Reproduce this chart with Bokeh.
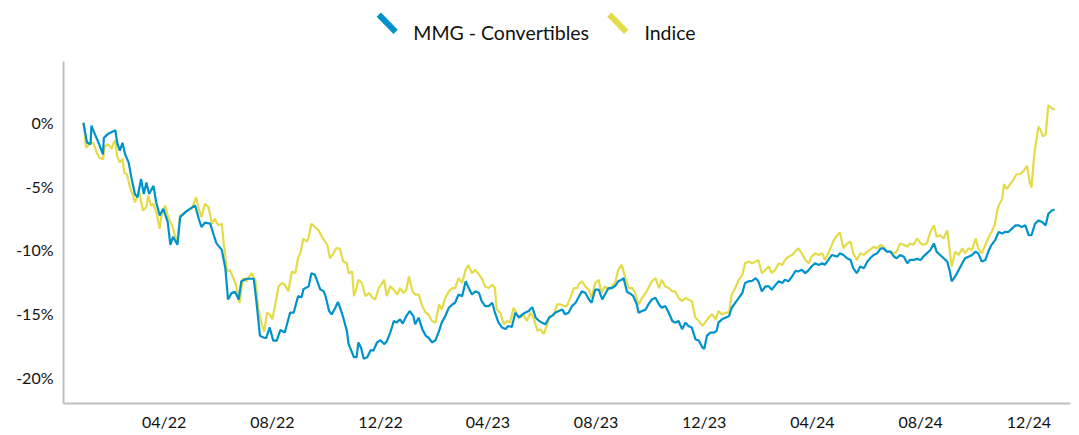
from datetime import datetime, timedelta
from bokeh.plotting import figure
from bokeh.models import (Range1d, FixedTicker, DatetimeTickFormatter, PrintfTickFormatter,
                          Label, Arrow)
from bokeh.embed import file_html
from bokeh.resources import INLINE

# ---------------- data (days since 2021-12-31, cumulative performance in %) ----------------
start_date = datetime(2021, 12, 31)

mmg_days = [0, 4, 8, 9, 13, 17, 22, 23, 28, 36, 38, 41, 44, 47, 51, 54, 58, 61, 65, 68, 71, 74, 79, 82,
            86, 90, 95, 98, 101, 106, 109, 115, 120, 126, 130, 133, 137, 143, 147, 150, 156, 160, 163,
            167, 171, 175, 178, 184, 192, 195, 199, 203, 206, 210, 214, 218, 222, 227, 233, 237, 242,
            246, 248, 254, 257, 261, 267, 271, 273, 277, 280, 284, 287, 290, 293, 297, 299, 302, 305,
            308, 310, 313, 316, 320, 324, 327, 331, 335, 339, 342, 346, 350, 353, 357, 360, 364, 368,
            372, 374, 378, 382, 386, 389, 393, 397, 401, 404, 408, 412, 416, 419, 423, 427, 431, 434,
            438, 442, 446, 449, 453, 457, 461, 464, 468, 472, 476, 479, 483, 487, 491, 495, 498, 502,
            506, 510, 513, 517, 521, 525, 528, 532, 536, 540, 543, 547, 551, 555, 558, 562, 566, 570,
            573, 577, 581, 585, 588, 592, 596, 600, 603, 607, 609, 613, 617, 620, 624, 626, 630, 634,
            637, 641, 645, 649, 652, 656, 660, 664, 667, 671, 675, 679, 682, 686, 690, 694, 698, 700,
            703, 707, 711, 714, 716, 720, 724, 728, 731, 735, 739, 743, 746, 750, 754, 758, 761, 765,
            769, 773, 776, 780, 784, 788, 791, 795, 799, 803, 806, 810, 814, 818, 821, 825, 829, 833,
            836, 840, 844, 850, 853, 857, 861, 865, 868, 872, 876, 880, 884, 887, 891, 895, 899, 902,
            906, 910, 914, 917, 921, 925, 929, 932, 936, 940, 944, 947, 951, 955, 959, 962, 966, 970,
            974, 977, 979, 983, 987, 991, 994, 998, 1002, 1006, 1009, 1013, 1017, 1021, 1024, 1028,
            1032, 1036, 1039, 1043, 1047, 1051, 1054, 1058, 1062, 1066, 1069, 1073, 1077, 1081, 1085,
            1088, 1092, 1095]
mmg_vals = [0.0, -1.56, -1.7, -0.23, -0.93, -1.56, -2.49, -1.19, -0.86, -0.6, -1.56, -2.2, -1.58, -2.49,
            -3.14, -4.3, -5.6, -5.86, -4.43, -5.6, -4.7, -5.6, -4.96, -6.25, -7.29, -6.77, -7.8, -9.6,
            -8.97, -9.6, -7.42, -7.03, -6.77, -6.51, -7.55, -8.2, -7.86, -7.94, -8.85, -9.49, -10.0,
            -11.44, -13.9, -13.4, -13.3, -13.9, -12.47, -12.27, -12.27, -14.03, -16.75, -16.89, -16.94,
            -16.1, -17.14, -17.14, -16.3, -16.5, -14.94, -14.94, -13.64, -13.72, -13.1, -12.87, -11.83,
            -11.96, -13.1, -13.26, -13.64, -14.81, -15.07, -14.55, -14.09, -14.68, -15.33, -16.37,
            -17.41, -17.92, -18.44, -18.44, -17.28, -17.67, -18.57, -18.44, -17.87, -17.92, -17.28,
            -17.1, -17.41, -17.2, -16.5, -15.59, -15.72, -15.46, -15.8, -15.2, -14.81, -15.2, -15.85,
            -15.33, -16.23, -16.76, -16.89, -17.28, -17.1, -16.37, -15.72, -15.2, -14.55, -14.29,
            -14.16, -13.51, -13.64, -12.47, -12.94, -13.51, -13.26, -13.39, -14.03, -14.42, -14.42,
            -14.16, -14.94, -15.72, -16.11, -16.23, -15.98, -16.06, -14.94, -15.33, -15.07, -14.94,
            -14.81, -14.5, -15.33, -15.54, -15.72, -15.85, -15.33, -15.2, -14.94, -14.81, -14.68,
            -15.07, -14.94, -14.42, -14.16, -13.77, -13.26, -13.39, -13.9, -14.16, -13.13, -13.13,
            -13.9, -13.51, -13.0, -13.0, -12.79, -12.47, -12.35, -12.22, -13.31, -13.46, -13.64,
            -14.29, -14.94, -14.81, -14.68, -14.29, -13.9, -13.77, -14.29, -14.55, -14.42, -14.94,
            -15.59, -15.72, -15.59, -16.23, -15.72, -15.98, -16.11, -17.02, -17.14, -17.67, -17.79,
            -16.76, -16.5, -16.5, -16.37, -15.72, -15.46, -15.33, -15.2, -14.55, -14.16, -13.77,
            -13.39, -12.6, -12.47, -12.43, -12.22, -12.47, -13.26, -12.87, -12.87, -13.13, -12.79,
            -12.47, -12.6, -12.35, -12.47, -12.09, -11.65, -11.7, -11.57, -11.83, -11.57, -11.31,
            -11.05, -11.18, -11.05, -11.18, -10.79, -10.4, -10.53, -10.27, -10.4, -10.66, -10.79,
            -11.44, -11.83, -11.31, -11.44, -10.92, -10.66, -10.4, -10.27, -9.88, -9.88, -10.14,
            -10.14, -10.53, -10.66, -10.4, -10.53, -11.05, -10.79, -10.79, -10.71, -10.79, -10.53,
            -10.27, -10.01, -9.49, -10.14, -10.4, -10.66, -10.92, -11.7, -12.47, -12.09, -11.57,
            -11.05, -10.66, -10.53, -10.4, -10.14, -10.27, -10.92, -10.79, -10.01, -9.6, -9.23, -8.59,
            -8.72, -8.59, -8.59, -8.33, -8.07, -8.07, -8.2, -8.07, -8.85, -8.85, -7.94, -7.68, -7.8,
            -8.07, -7.16, -6.9, -6.82]

indice_days = [0, 3, 8, 11, 15, 18, 22, 24, 28, 32, 34, 36, 38, 41, 44, 46, 49, 53, 56, 58, 63, 67, 71,
               73, 76, 79, 83, 86, 88, 92, 96, 100, 103, 106, 109, 113, 117, 122, 127, 130, 133, 137,
               141, 145, 148, 152, 156, 158, 162, 165, 169, 172, 176, 180, 184, 187, 190, 194, 197,
               201, 204, 207, 210, 213, 217, 220, 224, 227, 231, 235, 239, 242, 245, 248, 252, 254,
               257, 261, 265, 270, 275, 278, 282, 285, 289, 293, 297, 299, 303, 305, 308, 310, 314,
               318, 322, 326, 329, 333, 337, 339, 342, 346, 350, 354, 357, 361, 364, 367, 371, 374,
               378, 382, 386, 389, 393, 397, 401, 404, 408, 412, 416, 419, 423, 427, 431, 434, 438,
               442, 446, 449, 453, 457, 461, 464, 466, 470, 474, 478, 481, 485, 489, 493, 496, 500,
               504, 508, 512, 515, 519, 523, 526, 530, 534, 538, 542, 545, 549, 553, 557, 558, 562,
               566, 570, 573, 577, 581, 584, 588, 592, 596, 600, 603, 607, 611, 615, 619, 622, 626,
               630, 634, 637, 641, 645, 649, 652, 656, 660, 664, 667, 671, 675, 679, 682, 686, 690,
               694, 698, 701, 705, 709, 713, 716, 720, 724, 728, 731, 735, 739, 743, 746, 750, 754,
               758, 761, 765, 769, 773, 776, 780, 784, 788, 791, 795, 799, 803, 806, 810, 814, 818,
               821, 825, 829, 833, 836, 840, 844, 846, 850, 853, 857, 861, 865, 868, 872, 876, 880,
               884, 887, 891, 895, 899, 902, 906, 910, 914, 917, 921, 925, 929, 932, 936, 940, 944,
               947, 951, 955, 959, 962, 966, 970, 974, 977, 979, 983, 987, 991, 994, 998, 1002, 1006,
               1009, 1013, 1017, 1021, 1024, 1028, 1030, 1032, 1036, 1038, 1041, 1045, 1049, 1052,
               1056, 1060, 1064, 1067, 1069, 1072, 1074, 1077, 1079, 1082, 1085, 1088, 1092, 1095]
indice_vals = [0.0, -1.97, -1.58, -1.58, -2.36, -2.75, -2.88, -1.84, -1.71, -2.05, -1.58, -1.38, -2.62,
               -3.14, -2.83, -3.92, -4.05, -5.21, -5.73, -6.25, -5.47, -6.9, -6.64, -5.73, -6.51,
               -6.38, -7.29, -8.33, -7.29, -6.51, -7.55, -8.07, -8.85, -9.36, -7.29, -7.16, -6.9,
               -6.77, -5.86, -6.77, -7.42, -6.38, -6.64, -7.94, -7.55, -8.07, -7.94, -9.36, -11.7,
               -11.57, -12.22, -12.74, -14.16, -12.22, -12.47, -12.09, -11.83, -12.47, -14.55,
               -15.85, -16.42, -14.94, -15.07, -15.46, -14.03, -12.87, -12.6, -12.74, -13.26, -11.7,
               -11.83, -10.66, -10.14, -9.1, -9.36, -8.97, -7.94, -8.2, -8.46, -9.1, -9.6, -10.66,
               -10.27, -9.88, -9.88, -10.92, -11.05, -11.83, -11.7, -13.64, -13.0, -12.35, -12.6,
               -13.64, -13.39, -13.77, -13.9, -13.0, -12.6, -12.35, -13.64, -12.87, -13.13, -13.51,
               -13.0, -13.39, -13.13, -12.09, -13.26, -13.51, -13.51, -14.42, -14.94, -15.07, -15.59,
               -15.72, -14.29, -14.68, -13.77, -13.26, -13.0, -13.0, -12.22, -12.6, -11.57, -11.18,
               -11.83, -11.57, -11.96, -12.22, -12.87, -13.0, -12.74, -13.0, -14.68, -14.94, -15.85,
               -15.59, -15.72, -14.55, -15.07, -15.33, -15.07, -15.59, -14.94, -15.46, -16.37,
               -16.23, -16.63, -15.85, -15.2, -15.2, -14.29, -14.29, -14.42, -14.42, -13.77, -13.0,
               -13.0, -12.74, -12.47, -12.87, -13.13, -13.77, -12.6, -12.35, -13.39, -12.87, -13.13,
               -12.87, -12.47, -11.57, -11.18, -12.22, -13.0, -13.0, -13.39, -14.29, -13.77, -13.39,
               -13.0, -12.47, -12.22, -13.0, -12.35, -12.87, -13.0, -13.26, -13.26, -13.77, -14.03,
               -13.77, -13.9, -14.03, -15.33, -15.59, -15.98, -15.72, -15.33, -15.07, -15.46, -14.81,
               -15.07, -14.94, -14.94, -13.51, -13.0, -12.35, -11.96, -11.05, -10.92, -11.05, -10.92,
               -10.79, -11.83, -11.57, -11.31, -11.83, -11.57, -11.05, -11.18, -10.79, -10.53, -10.4,
               -10.09, -9.88, -10.27, -10.79, -11.05, -10.53, -10.27, -10.4, -10.27, -10.79, -10.27,
               -9.6, -9.23, -8.85, -8.64, -9.88, -9.49, -9.36, -10.27, -10.79, -10.27, -10.4, -10.14,
               -10.01, -9.75, -9.88, -9.6, -9.75, -10.14, -10.14, -10.27, -10.14, -9.49, -9.6, -9.75,
               -9.49, -9.6, -9.1, -9.49, -9.6, -9.49, -8.59, -8.07, -8.97, -8.85, -9.1, -8.46, -10.14,
               -11.31, -10.14, -10.4, -9.88, -10.27, -9.88, -10.01, -9.1, -9.88, -10.27, -9.6, -8.97,
               -8.59, -7.94, -7.03, -6.51, -5.99, -4.82, -5.21, -4.82, -4.43, -4.05, -4.05, -3.79,
               -3.4, -4.69, -5.08, -2.62, -1.58, -0.29, -0.54, -1.07, -0.93, 1.4, 1.14, 1.01]

series_names = ["MMG - Convertibles", "Indice"]
tick_months = [(2022, 4), (2022, 8), (2022, 12), (2023, 4), (2023, 8), (2023, 12),
               (2024, 4), (2024, 8), (2024, 12)]
y_ticks = [0, -5, -10, -15, -20]
y_axis_bounds = (-22.08, 4.85)

# ---------------- styling ----------------
BLUE = "#0092CB"
YELLOW = "#E4DB48"
AXIS = "#BFBFBF"
TEXT = "#111111"
FONT = "Lato"
EPOCH = datetime(1970, 1, 1)


def ms(dt):
    return (dt - EPOCH).total_seconds() * 1000.0


def day_ms(d):
    return ms(start_date + timedelta(days=d))


mmg_dates = [start_date + timedelta(days=d) for d in mmg_days]
ind_dates = [start_date + timedelta(days=d) for d in indice_days]

# the frame reaches up to the legend band; the y axis line is bounded to the plot range
p = figure(width=1075, height=433, x_axis_type="datetime",
           output_backend="svg", toolbar_location=None,
           x_range=Range1d(day_ms(-22.5), day_ms(1113)),
           y_range=Range1d(-22.08, 9.22),
           min_border_left=63, min_border_right=5, min_border_top=5, min_border_bottom=27)
p.outline_line_color = None
p.background_fill_color = "white"
p.border_fill_color = "white"
p.xgrid.visible = False
p.ygrid.visible = False

p.line(ind_dates, indice_vals, line_color=YELLOW, line_width=2.2)
p.line(mmg_dates, mmg_vals, line_color=BLUE, line_width=2.2)

xa = p.xaxis[0]
xa.ticker = FixedTicker(ticks=[ms(datetime(y, m, 1)) for (y, m) in tick_months])
fmt = "%m/%y"
xa.formatter = DatetimeTickFormatter(months=fmt, days=fmt, years=fmt, hours=fmt, minutes=fmt,
                                     seconds=fmt, milliseconds=fmt, microseconds=fmt,
                                     hourmin=fmt, minsec=fmt)
ya = p.yaxis[0]
ya.ticker = FixedTicker(ticks=y_ticks)
ya.formatter = PrintfTickFormatter(format="%d%%")
ya.bounds = y_axis_bounds
for ax in (xa, ya):
    ax.axis_line_color = AXIS
    ax.axis_line_width = 2
    ax.major_tick_line_color = None
    ax.minor_tick_line_color = None
    ax.major_tick_out = 0
    ax.major_tick_in = 0
    ax.major_label_text_font = FONT
    ax.major_label_text_font_size = "16px"
    ax.major_label_text_color = TEXT
xa.major_label_standoff = 8
ya.major_label_standoff = 10

# ---------------- legend (top band of the frame, placed in data units) ----------------
p.add_layout(Arrow(end=None, x_start=day_ms(333), y_start=8.5, x_end=day_ms(352), y_end=7.15,
                   line_color=BLUE, line_width=6))
p.add_layout(Label(x=day_ms(372), y=7.11, text=series_names[0],
                   text_font=FONT, text_font_size="19.5px", text_color=TEXT,
                   text_baseline="alphabetic"))
p.add_layout(Arrow(end=None, x_start=day_ms(593), y_start=8.5, x_end=day_ms(612), y_end=7.15,
                   line_color=YELLOW, line_width=6))
p.add_layout(Label(x=day_ms(632.5), y=7.11, text=series_names[1],
                   text_font=FONT, text_font_size="19.5px", text_color=TEXT,
                   text_baseline="alphabetic"))

open("out.html", "w").write(file_html(p, INLINE))
